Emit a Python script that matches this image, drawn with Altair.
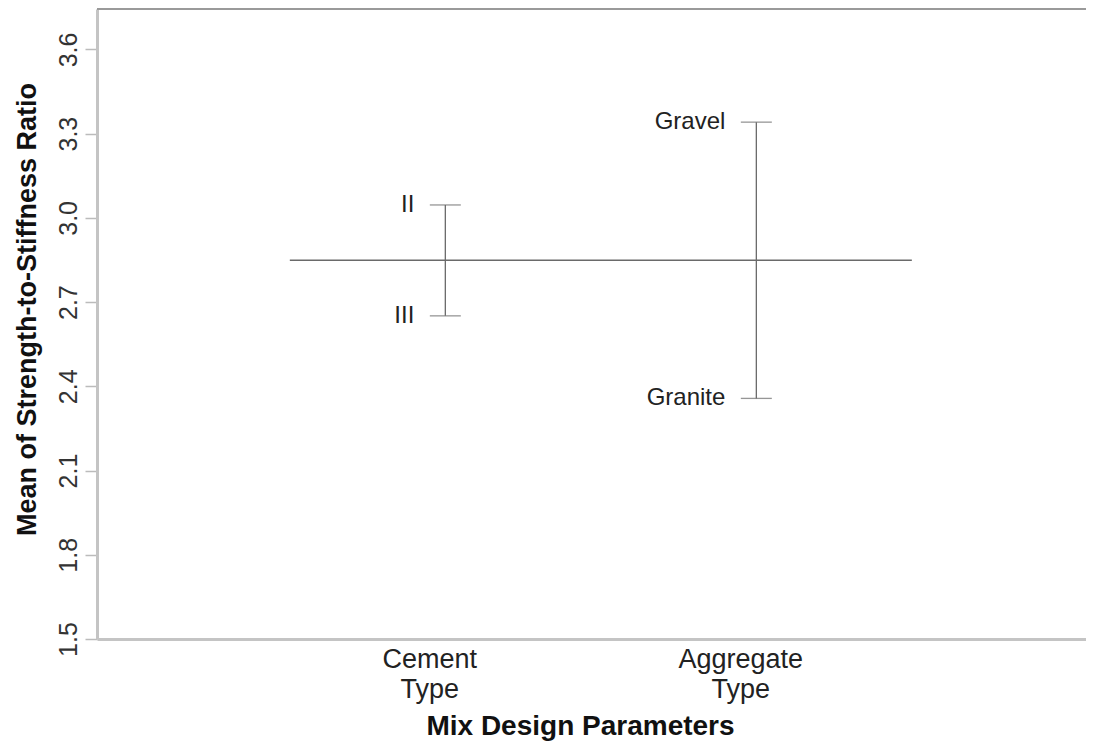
import json
import altair as alt
import pandas as pd

# ---- data ----
factor_pos = [1, 2]
factor_label_lines = [["Cement", "Type"], ["Aggregate", "Type"]]
level_names = ["II", "III", "Gravel", "Granite"]
level_factor = [1, 1, 2, 2]
level_means = [3.046, 2.651, 3.341, 2.357]
grand_mean = [2.849]
mean_line_start = [0.5]
mean_line_end = [2.5]
y_ticks = [1.5, 1.8, 2.1, 2.4, 2.7, 3.0, 3.3, 3.6]
x_domain = [-0.12, 3.06]
y_domain = [1.5, 3.744]

FONT = "Liberation Sans"
LINE = "#6a6a6a"

levels = pd.DataFrame({"name": level_names, "factor": level_factor, "mean": level_means})
ranges = levels.groupby("factor")["mean"].agg(["min", "max"]).reset_index()
gm = pd.DataFrame({"factor": mean_line_start, "x2": mean_line_end, "mean": grand_mean})
frame_top = pd.DataFrame({"factor": [x_domain[0]], "x2": [x_domain[1]], "mean": [y_domain[1]]})

xscale = alt.Scale(domain=x_domain, nice=False, zero=False)
yscale = alt.Scale(domain=y_domain, nice=False, zero=False)

label_expr = "datum.value == {} ? {} : {}".format(
    factor_pos[0], json.dumps(factor_label_lines[0]), json.dumps(factor_label_lines[1])
)

bottom_axis = alt.Axis(
    values=factor_pos, labelExpr=label_expr, ticks=False, grid=False,
    domainColor="#c4c4c4", domainWidth=3,
    labelFont=FONT, labelFontSize=27, labelColor="#222222", labelLineHeight=30,
    labelBaseline="top", labelPadding=7, labelOffset=-16,
    title="Mix Design Parameters", titleFont=FONT, titleFontSize=28,
    titleFontWeight="bold", titleColor="#111111", titleAlign="center",
    titleBaseline="alphabetic", titleX=483, titleY=95,
)
left_axis = alt.Axis(
    values=y_ticks, format=".1f", grid=False,
    domainColor="#c4c4c4", domainWidth=3, tickColor="#bbbbbb", tickWidth=1.5, tickSize=12,
    labelFont=FONT, labelFontSize=25, labelColor="#333333", labelAngle=270,
    labelAlign="center", labelBaseline="alphabetic", labelPadding=9,
    title="Mean of Strength-to-Stiffness Ratio", titleFont=FONT, titleFontSize=27,
    titleFontWeight="bold", titleColor="#111111", titleAngle=270, titleAlign="center",
    titleBaseline="alphabetic", titleX=-62, titleY=300,
)

X = alt.X("factor:Q", scale=xscale, axis=bottom_axis)
Y = alt.Y("mean:Q", scale=yscale, axis=left_axis)

top_frame = alt.Chart(frame_top).mark_rule(color="#9a9a9a", strokeWidth=2).encode(
    x=X, x2="x2:Q", y=Y,
)

mean_line = alt.Chart(gm).mark_rule(color=LINE, strokeWidth=1.3).encode(
    x=X, x2="x2:Q", y=Y,
)

verticals = alt.Chart(ranges).mark_rule(color=LINE, strokeWidth=1.3).encode(
    x=X,
    y=alt.Y("min:Q", scale=yscale, axis=left_axis),
    y2="max:Q",
)

ticks = alt.Chart(levels).mark_tick(orient="horizontal", size=31, thickness=1.3, color=LINE).encode(
    x=X, y=Y,
)

labels = alt.Chart(levels).mark_text(
    align="right", baseline="middle", dx=-31, font=FONT, fontSize=24, color="#222222"
).encode(
    x=X, y=Y, text="name:N",
)

chart = alt.layer(top_frame, mean_line, verticals, ticks, labels).properties(
    width=989, height=630, autosize="none",
    padding={"left": 89, "top": 1, "right": 0, "bottom": 104},
).configure_view(stroke=None)

chart.save("out.html", embed_options={"renderer": "svg", "actions": False})
